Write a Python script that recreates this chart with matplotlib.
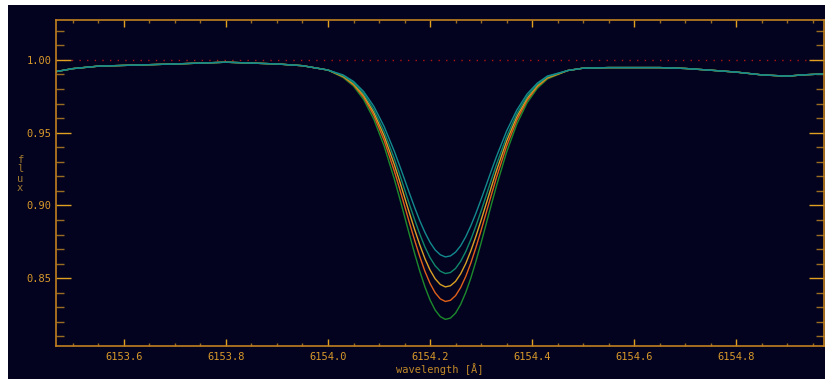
import matplotlib
matplotlib.use("Agg")
import matplotlib.pyplot as plt
import matplotlib.patches
from matplotlib.ticker import MultipleLocator, FormatStrFormatter

# shared continuum on both sides of the line
wl_left = [6153.46, 6153.50, 6153.55, 6153.60, 6153.70, 6153.80, 6153.90, 6153.95, 6154.00]
flux_left = [0.9915, 0.9940, 0.9957, 0.9962, 0.9972, 0.9984, 0.9972, 0.9960, 0.9930]

wl_right = [6154.47, 6154.50, 6154.55, 6154.60, 6154.65, 6154.70, 6154.75, 6154.80,
            6154.85, 6154.90, 6154.93, 6154.975]
flux_right = [0.9927, 0.9943, 0.9947, 0.9947, 0.9947, 0.9941, 0.9929, 0.9916,
              0.9897, 0.9888, 0.9897, 0.9904]

# line core, read per curve
wl_core = [6154.03, 6154.05, 6154.07, 6154.09, 6154.11, 6154.13, 6154.14, 6154.15,
           6154.16, 6154.17, 6154.18, 6154.19, 6154.20, 6154.21, 6154.22, 6154.23,
           6154.24, 6154.25, 6154.26, 6154.27, 6154.28, 6154.29, 6154.30, 6154.31,
           6154.32, 6154.33, 6154.35, 6154.37, 6154.39, 6154.41, 6154.43]

flux_teal = [0.9896, 0.9852, 0.9782, 0.9680, 0.9542, 0.9372, 0.9277, 0.9179,
             0.9080, 0.8984, 0.8894, 0.8814, 0.8746, 0.8694, 0.8661, 0.8646,
             0.8653, 0.8679, 0.8723, 0.8785, 0.8861, 0.8947, 0.9041, 0.9139,
             0.9238, 0.9334, 0.9511, 0.9655, 0.9765, 0.9840, 0.9889]
flux_tealgreen = [0.9891, 0.9843, 0.9768, 0.9656, 0.9507, 0.9321, 0.9218, 0.9111,
                  0.9004, 0.8900, 0.8802, 0.8714, 0.8641, 0.8585, 0.8548, 0.8532,
                  0.8539, 0.8567, 0.8616, 0.8683, 0.8766, 0.8860, 0.8962, 0.9068,
                  0.9176, 0.9280, 0.9472, 0.9630, 0.9748, 0.9831, 0.9884]
flux_gold = [0.9888, 0.9836, 0.9756, 0.9637, 0.9478, 0.9280, 0.9171, 0.9057,
             0.8943, 0.8832, 0.8728, 0.8634, 0.8556, 0.8496, 0.8457, 0.8440,
             0.8448, 0.8478, 0.8530, 0.8601, 0.8689, 0.8789, 0.8898, 0.9011,
             0.9125, 0.9237, 0.9441, 0.9609, 0.9735, 0.9823, 0.9879]
flux_orange = [0.9884, 0.9829, 0.9743, 0.9617, 0.9447, 0.9236, 0.9119, 0.8998,
               0.8876, 0.8758, 0.8647, 0.8547, 0.8464, 0.8400, 0.8358, 0.8340,
               0.8348, 0.8380, 0.8436, 0.8512, 0.8605, 0.8712, 0.8828, 0.8949,
               0.9071, 0.9190, 0.9407, 0.9586, 0.9721, 0.9815, 0.9875]
flux_green = [0.9878, 0.9820, 0.9727, 0.9591, 0.9408, 0.9181, 0.9055, 0.8925,
              0.8794, 0.8667, 0.8547, 0.8440, 0.8350, 0.8281, 0.8236, 0.8217,
              0.8226, 0.8260, 0.8320, 0.8402, 0.8502, 0.8617, 0.8742, 0.8873,
              0.9004, 0.9132, 0.9366, 0.9559, 0.9704, 0.9804, 0.9869]

curves = [
    (flux_green, "#1c8a2c"),
    (flux_orange, "#e0601a"),
    (flux_gold, "#d8a024"),
    (flux_tealgreen, "#10876a"),
    (flux_teal, "#128a8e"),
]

BG = "#03031f"
TXT = "#d8982a"
FONT = "DejaVu Sans Mono"

fig = plt.figure(figsize=(8.25, 3.79), dpi=100, facecolor="white")
fig.patches.append(matplotlib.patches.Rectangle(
    (8 / 825, 0), 1 - 8 / 825, 1 - 5 / 379, transform=fig.transFigure,
    facecolor=BG, edgecolor="none", zorder=-10))

ax = fig.add_axes([56 / 825, 1 - 346 / 379, 768 / 825, 326 / 379])
ax.set_facecolor(BG)

wl_all = wl_left + wl_core + wl_right
for flux, color in curves:
    ax.plot(wl_all, flux_left + flux + flux_right, color=color, lw=1.0)

ax.axhline(1.0, color="#b01414", lw=1.0, linestyle=(0, (1, 4.5)), zorder=0.5)

ax.set_xlim(6153.467, 6154.972)
ax.set_ylim(0.8034, 1.0274)

ax.xaxis.set_major_locator(MultipleLocator(0.2))
ax.xaxis.set_minor_locator(MultipleLocator(0.05))
ax.yaxis.set_major_locator(MultipleLocator(0.05))
ax.yaxis.set_minor_locator(MultipleLocator(0.01))
ax.xaxis.set_major_formatter(FormatStrFormatter("%.1f"))
ax.yaxis.set_major_formatter(FormatStrFormatter("%.2f"))

for s in ax.spines.values():
    s.set_color("#c08020")
    s.set_linewidth(1.2)

ax.tick_params(axis="both", which="both", direction="in", top=True, right=True,
               labelsize=7.5, labelcolor=TXT)
ax.tick_params(axis="x", which="major", length=5, width=1, color="#e0a020", pad=4)
ax.tick_params(axis="x", which="minor", length=2.3, width=1, color="#9a6c22")
ax.tick_params(axis="y", which="major", length=11, width=1, color="#e0a020", pad=3)
ax.tick_params(axis="y", which="minor", length=5.5, width=1, color="#9a6c22")
for lab in ax.get_xticklabels() + ax.get_yticklabels():
    lab.set_family(FONT)

ax.set_xlabel("wavelength [Å]", color="#c08828", fontsize=7.5, family=FONT, labelpad=1)
fig.text(20 / 825, 1 - 174 / 379, "f\nl\nu\nx", color="#a07a30", fontsize=7.5,
         family=FONT, ha="center", va="center", linespacing=0.95)

fig.savefig("out.png", dpi=100, facecolor=fig.get_facecolor())
